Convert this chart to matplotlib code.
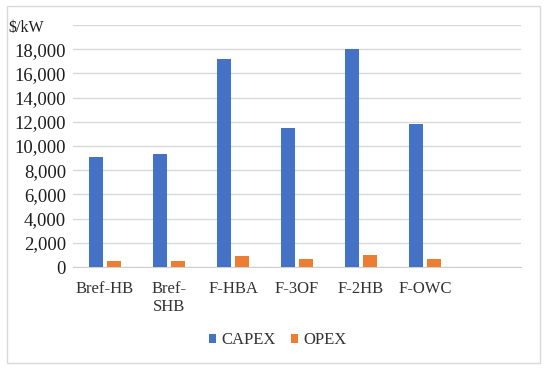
import matplotlib.pyplot as plt
import numpy as np
from matplotlib.patches import Rectangle

categories = ['Bref-HB', 'Bref-\nSHB', 'F-HBA', 'F-3OF', 'F-2HB', 'F-OWC']
capex = [9100, 9350, 17200, 11500, 18000, 11850]
opex = [460, 460, 900, 640, 980, 640]
yticks = [0, 2000, 4000, 6000, 8000, 10000, 12000, 14000, 16000, 18000, 20000]

W, H = 550, 375
fig = plt.figure(figsize=(5.5, 3.75), dpi=100)
ax = fig.add_axes([73 / W, 1 - 267 / H, 448 / W, 242 / H])

x = np.arange(len(categories))
ax.bar(x - 0.14, capex, 0.21, color='#4472C4', label='CAPEX', zorder=3)
ax.bar(x + 0.14, opex, 0.21, color='#ED7D31', label='OPEX', zorder=3)

ax.set_xlim(-0.5, 6.5)  # excel left an empty 7th slot
ax.set_ylim(0, 20000)
ax.set_yticks(yticks)
ax.set_yticklabels([f'{v:,}' if v < 20000 else '' for v in yticks],
                   fontsize=13.5, family='Liberation Serif', color='#1e1e1e')
ax.set_xticks(x)
ax.set_xticklabels(categories, fontsize=12, family='Liberation Serif',
                   color='#333333', linespacing=1.2)
ax.tick_params(length=0, pad=5)
ax.tick_params(axis='x', pad=10)
ax.grid(axis='y', color='#d9d9d9', linewidth=1, zorder=0)
for s in ['top', 'right', 'left']:
    ax.spines[s].set_visible(False)
ax.spines['bottom'].set_color('#d0d0d0')

fig.text(8 / W, 1 - 28 / H, '$/kW', fontsize=11.5, family='Liberation Serif',
         color='#1e1e1e', ha='left', va='center')

fig.legend(loc='center', bbox_to_anchor=(0.505, 1 - 340 / H), ncol=2, frameon=False,
           handlelength=0.45, handleheight=0.45, handletextpad=0.3, columnspacing=0.9,
           prop={'family': 'Liberation Serif', 'size': 12}, labelcolor='#333333')

# outer chart border
fig.patches.append(Rectangle((7 / W, 1 - 363 / H), 533 / W, 357 / H, transform=fig.transFigure,
                             fill=False, edgecolor='#d9d9d9', linewidth=1))

fig.savefig('out.png', dpi=100)
